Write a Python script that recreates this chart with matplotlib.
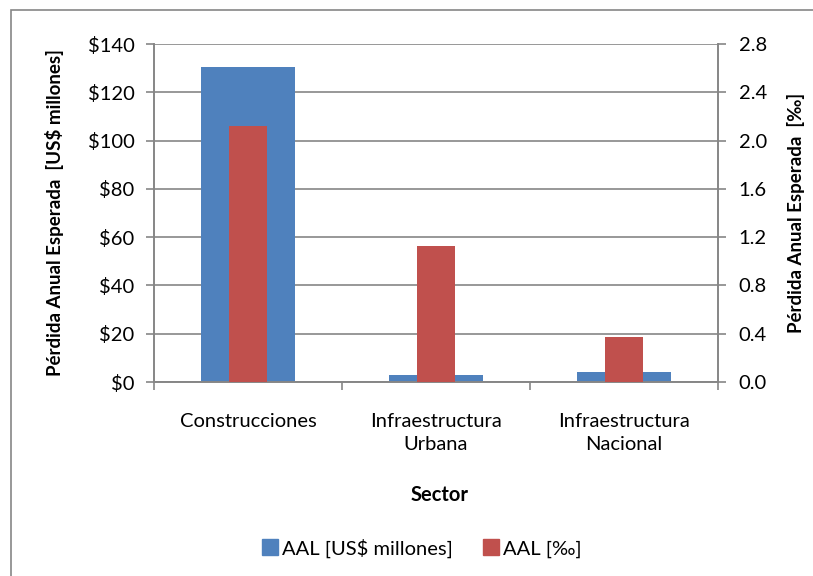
import matplotlib.pyplot as plt
from matplotlib.lines import Line2D
from matplotlib.patches import Rectangle

plt.rcParams['font.family'] = ['Lato', 'DejaVu Sans']

# Data
sectors = ['Construcciones', 'Infraestructura\nUrbana', 'Infraestructura\nNacional']
aal_usd = [130.6, 2.8, 4.1]        # US$ millones (left axis)
aal_permil = [2.12, 1.13, 0.37]    # per mil (right axis)

blue = '#4F81BD'
red = '#C0504D'
grey = '#868686'
fs = 14.5

fig = plt.figure(figsize=(8.13, 5.76), dpi=100)
W, H = 813, 576

# outer chart frame (Excel-like)
fig.patches.append(Rectangle((11 / W, -0.1), 1.2, 1 - 9.5 / H + 0.1,
                             transform=fig.transFigure, fill=False,
                             edgecolor=grey, linewidth=1.2))

ax = fig.add_axes([154 / W, 1 - 382 / H, (718 - 154) / W, (382 - 44) / H])
x = list(range(len(sectors)))
ax.bar(x, aal_usd, width=0.5, color=blue, zorder=2)
ax.set_xlim(-0.5, 2.5)
ax.set_ylim(0, 140)
ax.set_yticks(range(0, 141, 20))
ax.set_yticklabels([f'${v}' for v in range(0, 141, 20)], fontsize=fs)
ax.yaxis.grid(True, color=grey, linewidth=1.2)
ax.set_axisbelow(True)
ax.set_xticks(x)
ax.set_xticklabels(sectors, fontsize=fs, linespacing=1.45)
ax.set_xticks([-0.5, 0.5, 1.5, 2.5], minor=True)
ax.tick_params(axis='x', which='major', length=0, pad=22)
ax.tick_params(axis='x', which='minor', length=6, color=grey, width=1.2)
ax.tick_params(axis='y', length=6, color=grey, width=1.2, pad=8)
for s in ax.spines.values():
    s.set_color(grey)
    s.set_linewidth(1.2)
ax.spines['top'].set_visible(False)
ax.set_ylabel('Pérdida Anual Esperada  [US$ millones]', fontsize=13.5,
              fontweight='bold', ha='center', va='center')
ax.yaxis.set_label_coords(-(154 - 55) / (718 - 154), 0.5)

ax2 = ax.twinx()
ax2.bar(x, aal_permil, width=0.2, color=red, zorder=3)
ax2.set_ylim(0, 2.8)
ax2.set_yticks([i * 0.4 for i in range(8)])
ax2.set_yticklabels([f'{i * 0.4:.1f}' for i in range(8)], fontsize=fs)
ax2.tick_params(axis='y', length=6, color=grey, width=1.2, pad=9)
for s in ax2.spines.values():
    s.set_color(grey)
    s.set_linewidth(1.2)
ax2.spines['top'].set_visible(False)
ax2.set_ylabel('Pérdida Anual Esperada  [‰]', fontsize=13.5, fontweight='bold',
               rotation=90, ha='center', va='center')
ax2.yaxis.set_label_coords(1 + (796 - 718) / (718 - 154), 0.5)

fig.text(440 / W, 1 - 495 / H, 'Sector', ha='center', va='center',
         fontsize=fs, fontweight='bold')

handles = [Line2D([], [], marker='s', linestyle='none', color=blue, markersize=11),
           Line2D([], [], marker='s', linestyle='none', color=red, markersize=11)]
fig.legend(handles, ['AAL [US$ millones]', 'AAL [‰]'], loc='center',
           bbox_to_anchor=(421 / W, 1 - 548 / H), ncol=2, frameon=False,
           fontsize=fs, handletextpad=0.1, columnspacing=1.4, handlelength=1)

fig.savefig('out.png', dpi=100)
